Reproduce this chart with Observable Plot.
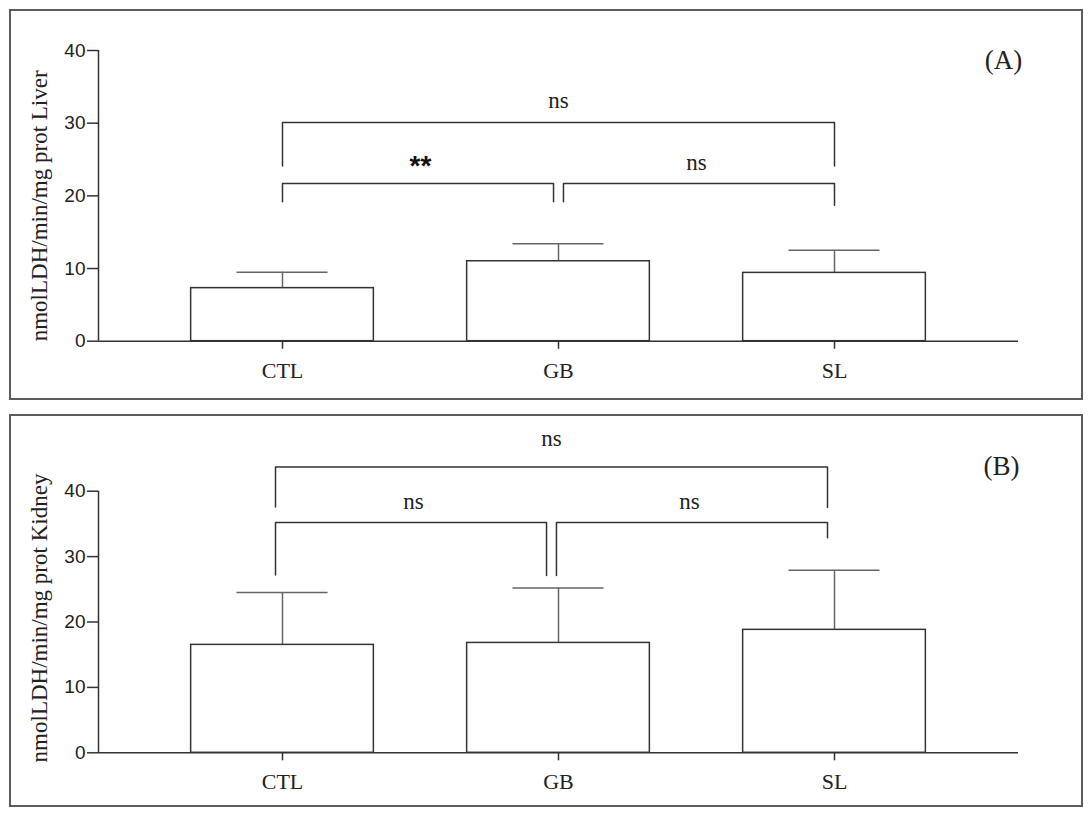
<!DOCTYPE html>
<html>
<head>
<meta charset="utf-8">
<script src="https://cdn.jsdelivr.net/npm/d3@7"></script>
<script src="https://cdn.jsdelivr.net/npm/@observablehq/plot@0.6"></script>
<style>
  html, body { margin: 0; padding: 0; background: #fff; }
  body { width: 1091px; height: 815px; position: relative; overflow: hidden; }
  .frame { position: absolute; box-sizing: border-box; border: 2px solid #5c5c5c; }
  .panel { position: absolute; }
  .panel svg { display: block; overflow: visible; }
</style>
</head>
<body>
<div class="frame" style="left:9px; top:9px; width:1074px; height:391px;"></div>
<div class="frame" style="left:9px; top:414px; width:1074px; height:393px;"></div>
<div id="panelA" class="panel" style="left:10px; top:10px;"></div>
<div id="panelB" class="panel" style="left:10px; top:415px;"></div>
<script>
// ---------- data ----------
const categories = ["CTL", "GB", "SL"];
const yTicks = [0, 10, 20, 30, 40];

// Panel A : liver
const liverMean = [7.3, 11.0, 9.4];
const liverUpper = [9.5, 13.4, 12.5];      // mean + SD
const liverLabel = "nmolLDH/min/mg prot Liver";
const liverBrackets = [
  {from: "CTL", to: "SL", top: 30.1, legFrom: 24.1, legTo: 24.1, label: "ns"},
  {from: "CTL", to: "GB", top: 21.7, legFrom: 19.2, legTo: 19.2, label: "**"},
  {from: "GB", to: "SL", top: 21.7, legFrom: 19.2, legTo: 18.7, label: "ns"}
];

// Panel B : kidney
const kidneyMean = [16.5, 16.8, 18.8];
const kidneyUpper = [24.5, 25.2, 27.9];
const kidneyLabel = "nmolLDH/min/mg prot Kidney";
const kidneyBrackets = [
  {from: "CTL", to: "SL", top: 43.7, legFrom: 37.6, legTo: 37.5, label: "ns"},
  {from: "CTL", to: "GB", top: 35.2, legFrom: 27.2, legTo: 27.1, label: "ns"},
  {from: "GB", to: "SL", top: 35.2, legFrom: 27.1, legTo: 32.9, label: "ns"}
];

// ---------- drawing ----------
const serif = "'Liberation Serif', 'Times New Roman', serif";
const sans = "'Liberation Sans', Arial, sans-serif";
const xDomain = [-2 / 3, 8 / 3];
const halfBar = 0.331;
const halfCap = 0.165;
const gap = 0.018;

function panel({mean, upper, brackets, label, tag, height, marginTop, marginBottom, shift, labelDy, tagDx, tagDy, outerDy}) {
  const rows = categories.map((c, i) => ({cat: c, i, mean: mean[i], upper: upper[i]}));
  const idx = c => categories.indexOf(c);
  const pts = [];
  brackets.forEach((b, k) => {
    const shared = (c) => brackets.filter(o => o !== b && o.top === b.top && (o.from === c || o.to === c)).length > 0;
    const x1 = idx(b.from) + (shared(b.from) ? gap : 0);
    const x2 = idx(b.to) - (shared(b.to) ? gap : 0);
    pts.push({k, x: x1, y: b.legFrom}, {k, x: x1, y: b.top}, {k, x: x2, y: b.top}, {k, x: x2, y: b.legTo});
    b.mid = (idx(b.from) + idx(b.to)) / 2;
    b.outer = b.from === categories[0] && b.to === categories[categories.length - 1];
  });
  const nsInner = brackets.filter(b => b.label !== "**" && !b.outer);
  const nsOuter = brackets.filter(b => b.label !== "**" && b.outer);
  const stars = brackets.filter(b => b.label === "**");

  return Plot.plot({
    width: 1071,
    height,
    marginLeft: 88,
    marginRight: 63,
    marginTop,
    marginBottom,
    x: {domain: xDomain, axis: null},
    y: {domain: [0, 40], axis: null},
    style: {background: "transparent", overflow: "visible"},
    marks: [
      Plot.axisY({ticks: yTicks, tickSize: 11, tickPadding: 2, fontSize: 19, fontFamily: sans,
        stroke: "#333", strokeWidth: 1.5, color: "#222", label: null}),
      Plot.ruleX([xDomain[0]], {y1: 0, y2: 40, stroke: "#333", strokeWidth: 1.5}),
      Plot.axisX({ticks: [0, 1, 2], tickFormat: i => categories[i], tickSize: 8, tickPadding: 13,
        fontSize: 22, fontFamily: serif, stroke: "#333", strokeWidth: 1.5, color: "#222", label: null}),
      Plot.ruleX(rows, {x: "i", y1: "mean", y2: "upper", stroke: "#666", strokeWidth: 1.5}),
      Plot.ruleY(rows, {y: "upper", x1: d => d.i - halfCap, x2: d => d.i + halfCap, stroke: "#666", strokeWidth: 1.5}),
      Plot.rectY(rows, {x1: d => d.i - halfBar, x2: d => d.i + halfBar, y1: 0, y2: "mean",
        fill: "white", stroke: "#333", strokeWidth: 1.5}),
      Plot.ruleY([0], {stroke: "#333", strokeWidth: 1.5}),
      Plot.line(pts, {x: "x", y: "y", z: "k", stroke: "#333", strokeWidth: 1.5, dx: shift}),
      Plot.text(nsInner, {x: "mid", y: "top", text: "label", dx: shift, dy: -21,
        fontSize: 23, fontFamily: serif, fill: "#222"}),
      Plot.text(nsOuter, {x: "mid", y: "top", text: "label", dx: shift, dy: outerDy,
        fontSize: 23, fontFamily: serif, fill: "#222"}),
      Plot.text(stars, {x: "mid", y: "top", text: "label", dx: shift, dy: -17,
        fontSize: 28, fontWeight: "bold", fontFamily: sans, fill: "#111"}),
      Plot.text([label], {frameAnchor: "left", text: d => d, rotate: -90, textAnchor: "middle", lineAnchor: "middle",
        dx: -59, dy: labelDy, fontSize: 23, fontFamily: serif, fill: "#222"}),
      Plot.text([tag], {frameAnchor: "top-right", text: d => d, textAnchor: "middle", lineAnchor: "middle",
        dx: tagDx, dy: tagDy, fontSize: 27, fontFamily: serif, fill: "#222"})
    ]
  });
}

document.getElementById("panelA").append(panel({
  mean: liverMean, upper: liverUpper, brackets: liverBrackets, label: liverLabel, tag: "(A)",
  height: 388, marginTop: 40, marginBottom: 57.3, shift: 0, labelDy: 10, tagDx: -15, tagDy: 10, outerDy: -22
}));
document.getElementById("panelB").append(panel({
  mean: kidneyMean, upper: kidneyUpper, brackets: kidneyBrackets, label: kidneyLabel, tag: "(B)",
  height: 391, marginTop: 75.7, marginBottom: 53.7, shift: -7, labelDy: -4, tagDx: -17, tagDy: -25, outerDy: -28
}));
</script>
</body>
</html>
